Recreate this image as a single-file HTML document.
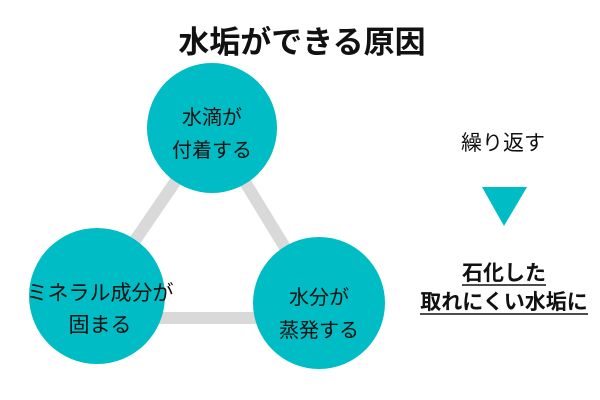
<!DOCTYPE html>
<html><head><meta charset="utf-8"><style>
body{margin:0;width:600px;height:400px;background:#fff;overflow:hidden;font-family:"Liberation Sans","Noto Sans CJK JP",sans-serif;}
svg{position:absolute;left:0;top:0}
</style></head><body>
<svg width="600" height="400" viewBox="0 0 600 400">
<g stroke="#d9d9d9" stroke-width="12" fill="none">
<line x1="212" y1="128" x2="97" y2="296"/>
<line x1="212" y1="128" x2="319" y2="303"/>
<line x1="97" y1="318" x2="319" y2="318"/>
</g>
<g fill="#00bcc4">
<circle cx="212" cy="128" r="65"/>
<circle cx="97" cy="296" r="68"/>
<circle cx="319" cy="303" r="66"/>
<polygon points="482,187 527,187 504,226"/>
</g>
<g font-family="Liberation Sans, Noto Sans CJK JP, sans-serif" text-anchor="middle" fill="#111">
<text x="302" y="53" font-size="31" font-weight="bold">水垢ができる原因</text>
<text x="212" y="124" font-size="20">水滴が</text>
<text x="212" y="157" font-size="20">付着する</text>
<text x="100" y="300" font-size="21">ミネラル成分が</text>
<text x="100" y="332" font-size="21">固まる</text>
<text x="319" y="304" font-size="20">水分が</text>
<text x="319" y="337" font-size="20">蒸発する</text>
<text x="503" y="150" font-size="21">繰り返す</text>
<text x="504" y="280" font-size="21" font-weight="bold">石化した</text>
<text x="504" y="309" font-size="21" font-weight="bold">取れにくい水垢に</text>
</g>
<g stroke="#111" stroke-width="1.5">
<line x1="462" y1="285" x2="546" y2="285"/>
<line x1="420" y1="314" x2="588" y2="314"/>
</g>
</svg>
</body></html>
